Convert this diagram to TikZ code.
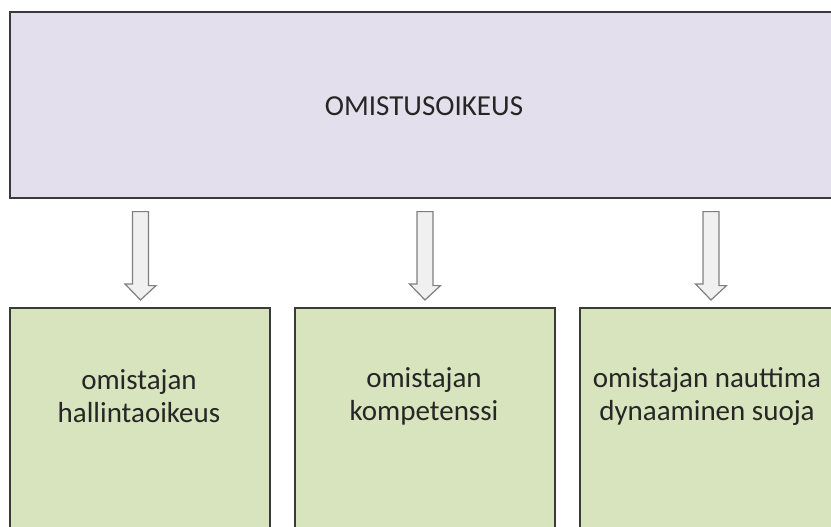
\documentclass[tikz,border=0pt]{standalone}
\usepackage{fontspec}
\setmainfont{Carlito}
\usetikzlibrary{calc}
\definecolor{lav}{HTML}{E4DFEC}
\definecolor{grn}{HTML}{D7E4BD}
\definecolor{edge}{HTML}{3A3A3A}
\definecolor{arrfill}{HTML}{F0F0F0}
\definecolor{arredge}{HTML}{7F7F7F}
\definecolor{txt}{HTML}{262626}
\tikzset{
  topbox/.style={draw=edge, line width=1.6pt, fill=lav, rectangle, inner sep=0pt, anchor=north west, minimum width=840pt, minimum height=186pt},
  subbox/.style={draw=edge, line width=1.6pt, fill=grn, rectangle, inner sep=0pt, anchor=north west, minimum width=260pt, minimum height=260pt},
  lbl/.style={text=txt, font=\fontsize{29}{33}\selectfont, align=center, inner sep=0pt},
  blockarrow/.style={draw=arredge, fill=arrfill, line width=1.2pt, line join=miter}
}
\begin{document}
\begin{tikzpicture}[x=1pt,y=-1pt]
\useasboundingbox (0,0) rectangle (831,527);
\clip (0,0) rectangle (831,527);
\node[topbox] (top) at (9,11) {};
\node[lbl] (toptext) at (424,106) {OMISTUSOIKEUS};
\node[subbox] (b1) at (9,307) {};
\node[subbox] (b2) at (294,307) {};
\node[subbox] (b3) at (579,307) {};
\node[lbl] (t1) at (139,396) {omistajan\\hallintaoikeus};
\node[lbl] (t2) at (424,396) {omistajan\\kompetenssi};
\node[lbl] (t3) at (707,396) {omistajan nauttima\\dynaaminen suoja};
\foreach \ax/\b in {140.5/b1,425/b2,711/b3}{
  \draw[blockarrow] (\ax,0 |- top.south) ++(-8,13) -- ++(16,0) -- ++(0,74) -- ++(7.5,0)
     -- ($(\ax,0 |- \b.north)+(0,-7)$) -- ++(-15.5,-16) -- ++(7.5,0) -- cycle;
}
\end{tikzpicture}
\end{document}
